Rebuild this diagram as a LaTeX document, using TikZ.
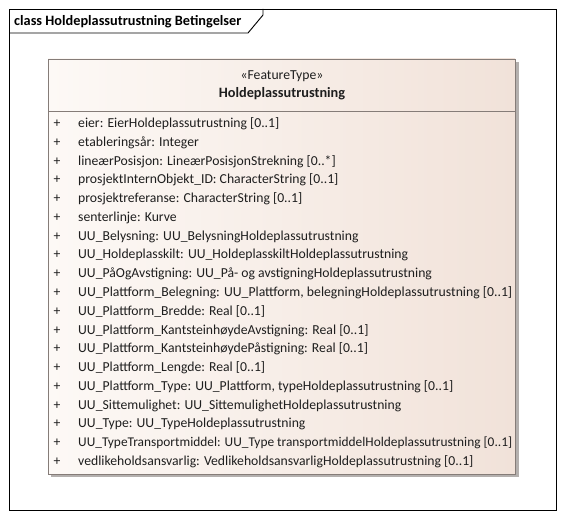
\documentclass[tikz,border=0pt]{standalone}
\usepackage{fontspec}
\setmainfont{Carlito}
\usepackage{tikz}
\usepackage{xcolor}
\definecolor{boxleft}{HTML}{FDF9F6}
\definecolor{boxright}{HTML}{F1E2D9}
\definecolor{boxline}{HTML}{857C78}
\definecolor{shadowgray}{HTML}{B4B0AE}
\definecolor{txt}{HTML}{1E1E1E}
\tikzset{
  attr/.style={anchor=base west, inner sep=0pt, text=txt, font=\fontsize{13.7}{15}\selectfont},
  plus/.style={anchor=base, inner sep=0pt, text=txt, font=\fontsize{13.7}{15}\selectfont},
}
\begin{document}
\begin{tikzpicture}[x=1pt,y=-1pt]
\useasboundingbox (0,0) rectangle (566,519);
% frame and tab
\draw [black, line width=0.9pt] (9,9) rectangle (556,510);
\draw [black, line width=0.9pt] (9,33) -- (248,33) -- (263,15) -- (263,9);
\node [anchor=base west, inner sep=0pt, font=\fontsize{14.3}{16}\selectfont\bfseries] (title) at (14,25.5) {class Holdeplassutrustning Betingelser};
% class box
\fill [shadowgray] (51,62) rectangle (519,477);
\shade [left color=boxleft, right color=boxright] (48,59) rectangle (515,474);
\draw [boxline, line width=0.9pt] (48,59) rectangle (515,474);
\draw [boxline, line width=0.7pt] (48,111) -- (515,111);
\node [anchor=base, inner sep=0pt, text=txt, font=\fontsize{13.7}{15}\selectfont] (stereo) at (282,79.5) {«FeatureType»};
\node [anchor=base, inner sep=0pt, text=txt, font=\fontsize{14.3}{16}\selectfont\bfseries] (name) at (282,98) {Holdeplassutrustning};
% attributes
\node [plus] (p1) at (57,127.5) {+};
\node [attr] (a1) at (78,127.5) {eier: EierHoldeplassutrustning [0..1]};
\node [plus] (p2) at (57,146.3) {+};
\node [attr] (a2) at (78,146.3) {etableringsår: Integer};
\node [plus] (p3) at (57,165.1) {+};
\node [attr] (a3) at (78,165.1) {lineærPosisjon: LineærPosisjonStrekning [0..*]};
\node [plus] (p4) at (57,183.8) {+};
\node [attr] (a4) at (78,183.8) {prosjektInternObjekt\_ID: CharacterString [0..1]};
\node [plus] (p5) at (57,202.6) {+};
\node [attr] (a5) at (78,202.6) {prosjektreferanse: CharacterString [0..1]};
\node [plus] (p6) at (57,221.4) {+};
\node [attr] (a6) at (78,221.4) {senterlinje: Kurve};
\node [plus] (p7) at (57,240.2) {+};
\node [attr] (a7) at (78,240.2) {UU\_Belysning: UU\_BelysningHoldeplassutrustning};
\node [plus] (p8) at (57,258.9) {+};
\node [attr] (a8) at (78,258.9) {UU\_Holdeplasskilt: UU\_HoldeplasskiltHoldeplassutrustning};
\node [plus] (p9) at (57,277.7) {+};
\node [attr] (a9) at (78,277.7) {UU\_PåOgAvstigning: UU\_På- og avstigningHoldeplassutrustning};
\node [plus] (p10) at (57,296.5) {+};
\node [attr] (a10) at (78,296.5) {\resizebox{434pt}{!}{UU\_Plattform\_Belegning: UU\_Plattform, belegningHoldeplassutrustning [0..1]}};
\node [plus] (p11) at (57,315.3) {+};
\node [attr] (a11) at (78,315.3) {UU\_Plattform\_Bredde: Real [0..1]};
\node [plus] (p12) at (57,334.1) {+};
\node [attr] (a12) at (78,334.1) {UU\_Plattform\_KantsteinhøydeAvstigning: Real [0..1]};
\node [plus] (p13) at (57,352.8) {+};
\node [attr] (a13) at (78,352.8) {UU\_Plattform\_KantsteinhøydePåstigning: Real [0..1]};
\node [plus] (p14) at (57,371.6) {+};
\node [attr] (a14) at (78,371.6) {UU\_Plattform\_Lengde: Real [0..1]};
\node [plus] (p15) at (57,390.4) {+};
\node [attr] (a15) at (78,390.4) {UU\_Plattform\_Type: UU\_Plattform, typeHoldeplassutrustning [0..1]};
\node [plus] (p16) at (57,409.2) {+};
\node [attr] (a16) at (78,409.2) {UU\_Sittemulighet: UU\_SittemulighetHoldeplassutrustning};
\node [plus] (p17) at (57,427.9) {+};
\node [attr] (a17) at (78,427.9) {UU\_Type: UU\_TypeHoldeplassutrustning};
\node [plus] (p18) at (57,446.7) {+};
\node [attr] (a18) at (78,446.7) {\resizebox{434pt}{!}{UU\_TypeTransportmiddel: UU\_Type transportmiddelHoldeplassutrustning [0..1]}};
\node [plus] (p19) at (57,465.5) {+};
\node [attr] (a19) at (78,465.5) {vedlikeholdsansvarlig: VedlikeholdsansvarligHoldeplassutrustning [0..1]};
\end{tikzpicture}
\end{document}
